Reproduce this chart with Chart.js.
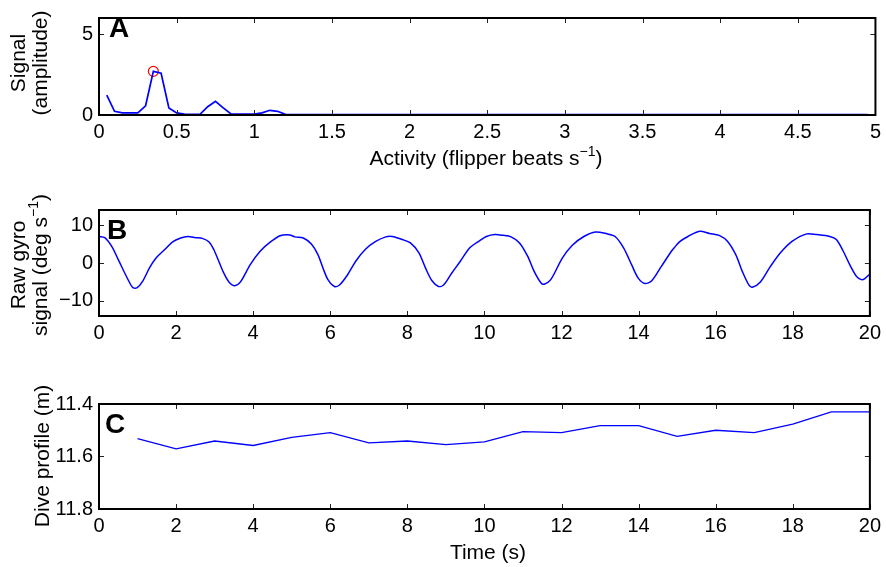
<!DOCTYPE html>
<html>
<head>
<meta charset="utf-8">
<script src="https://cdn.jsdelivr.net/npm/chart.js@4.4.0/dist/chart.umd.min.js"></script>
<style>
  html, body { margin: 0; padding: 0; background: #fff; }
  #wrap { position: relative; width: 886px; height: 567px; }
  canvas { position: absolute; left: 0; }
</style>
</head>
<body>
<div id="wrap">
  <canvas id="panelA" width="886" height="190" style="top:0"></canvas>
  <canvas id="panelB" width="886" height="190" style="top:190px"></canvas>
  <canvas id="panelC" width="886" height="187" style="top:380px"></canvas>
</div>
<script>
// ======================= DATA =======================
// Panel A - spectrum of the gyro signal
const activityFreq = [
  0.05, 0.10, 0.15, 0.20, 0.25, 0.30, 0.35, 0.40, 0.45, 0.50,
  0.55, 0.60, 0.65, 0.70, 0.75, 0.80, 0.85, 0.90, 0.95, 1.00,
  1.05, 1.10, 1.15, 1.20, 1.25, 1.30, 1.35, 1.40, 1.45, 1.50,
  1.55, 1.60, 1.65, 1.70, 1.75, 1.80, 1.85, 1.90, 1.95, 2.00,
  2.05, 2.10, 2.15, 2.20, 2.25, 2.30, 2.35, 2.40, 2.45, 2.50,
  2.55, 2.60, 2.65, 2.70, 2.75, 2.80, 2.85, 2.90, 2.95, 3.00,
  3.05, 3.10, 3.15, 3.20, 3.25, 3.30, 3.35, 3.40, 3.45, 3.50,
  3.55, 3.60, 3.65, 3.70, 3.75, 3.80, 3.85, 3.90, 3.95, 4.00,
  4.05, 4.10, 4.15, 4.20, 4.25, 4.30, 4.35, 4.40, 4.45, 4.50,
  4.55, 4.60, 4.65, 4.70, 4.75, 4.80, 4.85, 4.90, 4.95
];
const activityAmp = [
  1.23, 0.23, 0.13, 0.13, 0.13, 0.57, 2.70, 2.58, 0.44, 0.13,
  0.05, 0.04, 0.04, 0.51, 0.84, 0.44, 0.06, 0.05, 0.05, 0.06,
  0.13, 0.29, 0.23, 0.04, 0.03, 0.03, 0.02, 0.03, 0.03, 0.02,
  0.03, 0.02, 0.03, 0.03, 0.02, 0.03, 0.02, 0.02, 0.03, 0.02,
  0.03, 0.02, 0.02, 0.03, 0.02, 0.02, 0.03, 0.02, 0.02, 0.02,
  0.03, 0.02, 0.02, 0.02, 0.03, 0.02, 0.02, 0.02, 0.02, 0.03,
  0.02, 0.02, 0.02, 0.02, 0.02, 0.03, 0.02, 0.02, 0.02, 0.02,
  0.02, 0.02, 0.03, 0.02, 0.02, 0.02, 0.02, 0.02, 0.02, 0.02,
  0.02, 0.03, 0.02, 0.02, 0.02, 0.02, 0.02, 0.02, 0.02, 0.02,
  0.02, 0.02, 0.02, 0.02, 0.02, 0.02, 0.02, 0.02, 0.02
];
const peakFreq = [0.35];
const peakAmp  = [2.70];
const aXTicks = [0, 0.5, 1, 1.5, 2, 2.5, 3, 3.5, 4, 4.5, 5];
const aYTicks = [0, 5];

// Panel B - raw gyro trace
const gyroTime = [
  0.00, 0.15, 0.33, 0.50, 0.67, 0.80, 0.88, 0.99, 1.14, 1.31,
  1.48, 1.70, 1.91, 2.12, 2.30, 2.51, 2.68, 2.85, 2.98, 3.11,
  3.24, 3.37, 3.52, 3.67, 3.92, 4.18, 4.44, 4.70, 4.95, 5.08,
  5.30, 5.51, 5.68, 5.81, 5.94, 6.11, 6.24, 6.45, 6.67, 6.92,
  7.18, 7.44, 7.61, 7.87, 8.08, 8.30, 8.47, 8.64, 8.81, 8.94,
  9.15, 9.37, 9.62, 9.88, 10.05, 10.27, 10.48, 10.69, 10.91, 11.12,
  11.29, 11.47, 11.55, 11.72, 12.02, 12.28, 12.58, 12.88, 13.18, 13.39,
  13.61, 13.82, 13.99, 14.16, 14.34, 14.59, 14.85, 14.93, 15.06, 15.28,
  15.58, 15.84, 16.09, 16.31, 16.52, 16.69, 16.86, 16.95, 17.16, 17.42,
  17.68, 17.98, 18.36, 18.62, 18.96, 19.13, 19.31, 19.48, 19.65, 19.78,
  19.86, 20.00
];
const gyroValue = [
  7.0, 6.7, 4.4, 0.9, -2.7, -5.3, -6.5, -6.5, -4.7, -1.3,
  1.3, 3.5, 5.6, 6.6, 7.0, 6.7, 6.5, 5.6, 3.5, 0.4,
  -2.7, -5.0, -6.0, -5.0, -0.5, 3.1, 5.5, 7.2, 7.4, 6.9,
  6.6, 5.0, 2.2, -1.3, -4.4, -6.2, -5.8, -3.1, 0.6, 3.7,
  5.7, 6.9, 7.0, 6.2, 5.3, 2.7, -1.3, -4.7, -6.2, -5.8,
  -2.7, 0.4, 4.0, 5.9, 7.0, 7.5, 7.3, 6.9, 5.3, 1.8,
  -2.2, -5.3, -5.6, -4.4, 1.3, 4.7, 7.0, 8.2, 7.7, 7.0,
  4.0, -0.5, -4.0, -5.4, -4.7, -0.9, 3.1, 4.1, 5.6, 7.0,
  8.4, 7.8, 7.3, 5.7, 2.2, -2.2, -5.8, -6.4, -5.0, -0.9,
  2.7, 5.7, 7.7, 7.5, 7.0, 6.2, 3.1, -0.5, -3.5, -4.4,
  -4.2, -2.9
];
const bXTicks = [0, 2, 4, 6, 8, 10, 12, 14, 16, 18, 20];
const bYTicks = [-10, 0, 10];

// Panel C - dive profile
const depthTime  = [1, 2, 3, 4, 5, 6, 7, 8, 9, 10, 11, 12, 13, 14, 15, 16, 17, 18, 19, 20];
const depthValue = [11.532, 11.571, 11.541, 11.558, 11.527, 11.509, 11.548, 11.541, 11.555, 11.544,
                    11.505, 11.509, 11.482, 11.482, 11.523, 11.500, 11.509, 11.477, 11.430, 11.430];
const cXTicks = [0, 2, 4, 6, 8, 10, 12, 14, 16, 18, 20];
const cYTicks = [11.4, 11.6, 11.8];

// ============================ SHARED HELPERS ==============================
const FONT = '"Liberation Sans", Arial, Helvetica, sans-serif';
const TICK_SIZE = 20;
const TITLE_SIZE = 21;

const pairs = (xs, ys) => xs.map((x, i) => ({ x, y: ys[i] }));

// draws text with optional superscript pieces, centred on (0,0)
function drawRich(ctx, parts, size) {
  const supSize = Math.round(size * 0.66);
  let w = 0;
  parts.forEach(p => {
    ctx.font = `${p.sup ? supSize : size}px ${FONT}`;
    p.w = ctx.measureText(p.t).width;
    w += p.w;
  });
  let x = -w / 2;
  ctx.textAlign = 'left';
  ctx.textBaseline = 'middle';
  parts.forEach(p => {
    ctx.font = `${p.sup ? supSize : size}px ${FONT}`;
    ctx.fillText(p.t, x, p.sup ? -size * 0.32 : 0);
    x += p.w;
  });
}

// MATLAB-ish box, inward ticks, panel letter and axis titles
const framePlugin = {
  id: 'frame',
  afterDraw(chart, args, o) {
    const { ctx, chartArea: a, scales } = chart;
    ctx.save();
    ctx.strokeStyle = '#222';
    ctx.lineWidth = 1;
    const tl = 5;
    scales.x.ticks.forEach(t => {
      const px = Math.round(scales.x.getPixelForValue(t.value)) + 0.5;
      ctx.beginPath();
      ctx.moveTo(px, a.bottom); ctx.lineTo(px, a.bottom - tl);
      ctx.moveTo(px, a.top);    ctx.lineTo(px, a.top + tl);
      ctx.stroke();
    });
    scales.y.ticks.forEach(t => {
      const py = Math.round(scales.y.getPixelForValue(t.value)) + 0.5;
      ctx.beginPath();
      ctx.moveTo(a.left, py);  ctx.lineTo(a.left + tl, py);
      ctx.moveTo(a.right, py); ctx.lineTo(a.right - tl, py);
      ctx.stroke();
    });
    ctx.strokeStyle = '#000';
    ctx.lineWidth = 2;
    ctx.strokeRect(a.left, a.top, a.right - a.left, a.bottom - a.top);

    ctx.fillStyle = '#000';
    ctx.font = `bold 28px ${FONT}`;
    ctx.textAlign = 'left';
    ctx.textBaseline = 'alphabetic';
    ctx.fillText(o.letter, o.letterX, o.letterY);

    (o.yTitle || []).forEach(line => {
      ctx.save();
      ctx.translate(line.x, line.y);
      ctx.rotate(-Math.PI / 2);
      drawRich(ctx, line.parts, TITLE_SIZE);
      ctx.restore();
    });
    if (o.xTitle) {
      ctx.save();
      ctx.translate(o.xTitle.x, o.xTitle.y);
      drawRich(ctx, o.xTitle.parts, TITLE_SIZE);
      ctx.restore();
    }
    ctx.restore();
  }
};

function makePanel(id, cfg) {
  return new Chart(document.getElementById(id), {
    type: 'line',
    data: { datasets: cfg.datasets },
    options: {
      responsive: false,
      animation: false,
      devicePixelRatio: 1,
      layout: { padding: { top: cfg.top, right: 9, left: 0, bottom: 0 } },
      plugins: {
        legend: { display: false },
        tooltip: { enabled: false },
        frame: cfg.frame
      },
      scales: {
        x: {
          type: 'linear',
          min: cfg.xMin, max: cfg.xMax,
          grid: { display: false, drawTicks: false },
          border: { display: false },
          afterBuildTicks: s => { s.ticks = cfg.xTicks.map(v => ({ value: v })); },
          afterFit: s => { s.height = cfg.xHeight; },
          ticks: {
            color: '#000', padding: 5, maxRotation: 0, autoSkip: false,
            font: { family: FONT, size: TICK_SIZE },
            callback: v => String(v)
          }
        },
        y: {
          type: 'linear',
          min: cfg.yMin, max: cfg.yMax,
          reverse: !!cfg.yReverse,
          grid: { display: false, drawTicks: false },
          border: { display: false },
          afterBuildTicks: s => { s.ticks = cfg.yTicks.map(v => ({ value: v })); },
          afterFit: s => { s.width = 99; },
          ticks: {
            color: '#000', padding: 6, autoSkip: false,
            font: { family: FONT, size: TICK_SIZE },
            callback: cfg.yFmt || (v => String(v).replace('-', '\u2212'))
          }
        }
      }
    },
    plugins: [framePlugin]
  });
}

// ================================ PANELS ==================================
makePanel('panelA', {
  top: 10, xHeight: 75,
  xMin: 0, xMax: 5, yMin: 0, yMax: 6,
  xTicks: aXTicks, yTicks: aYTicks,
  datasets: [
    { data: pairs(activityFreq, activityAmp), borderColor: '#0000ff', borderWidth: 1.7,
      pointRadius: 0, tension: 0, fill: false },
    { data: pairs(peakFreq, peakAmp), showLine: false, pointRadius: 5,
      pointBorderColor: '#ff0000', pointBackgroundColor: 'rgba(0,0,0,0)', pointBorderWidth: 1.2 }
  ],
  frame: {
    letter: 'A', letterX: 109, letterY: 37,
    yTitle: [
      { x: 19, y: 63, parts: [{ t: 'Signal' }] },
      { x: 41, y: 63, parts: [{ t: '(amplitude)' }] }
    ],
    xTitle: { x: 486, y: 159, parts: [{ t: 'Activity (flipper beats s' }, { t: '\u22121', sup: true }, { t: ')' }] }
  }
});

makePanel('panelB', {
  top: 20, xHeight: 64,
  xMin: 0, xMax: 20, yMin: -14, yMax: 14,
  xTicks: bXTicks, yTicks: bYTicks,
  datasets: [
    { data: pairs(gyroTime, gyroValue), borderColor: '#0000ff', borderWidth: 1.5,
      pointRadius: 0, tension: 0.3, fill: false }
  ],
  frame: {
    letter: 'B', letterX: 107, letterY: 49,
    yTitle: [
      { x: 19, y: 75, parts: [{ t: 'Raw gyro' }] },
      { x: 41, y: 75, parts: [{ t: 'signal (deg s' }, { t: '\u22121', sup: true }, { t: ')' }] }
    ]
  }
});

makePanel('panelC', {
  top: 24, xHeight: 58,
  xMin: 0, xMax: 20, yMin: 11.4, yMax: 11.8, yReverse: true,
  xTicks: cXTicks, yTicks: cYTicks,
  yFmt: v => Number(v).toFixed(1),
  datasets: [
    { data: pairs(depthTime, depthValue), borderColor: '#0000ff', borderWidth: 1.3,
      pointRadius: 0, tension: 0, fill: false }
  ],
  frame: {
    letter: 'C', letterX: 105, letterY: 53,
    yTitle: [
      { x: 43, y: 76, parts: [{ t: 'Dive profile (m)' }] }
    ],
    xTitle: { x: 488, y: 173, parts: [{ t: 'Time (s)' }] }
  }
});
</script>
</body>
</html>
